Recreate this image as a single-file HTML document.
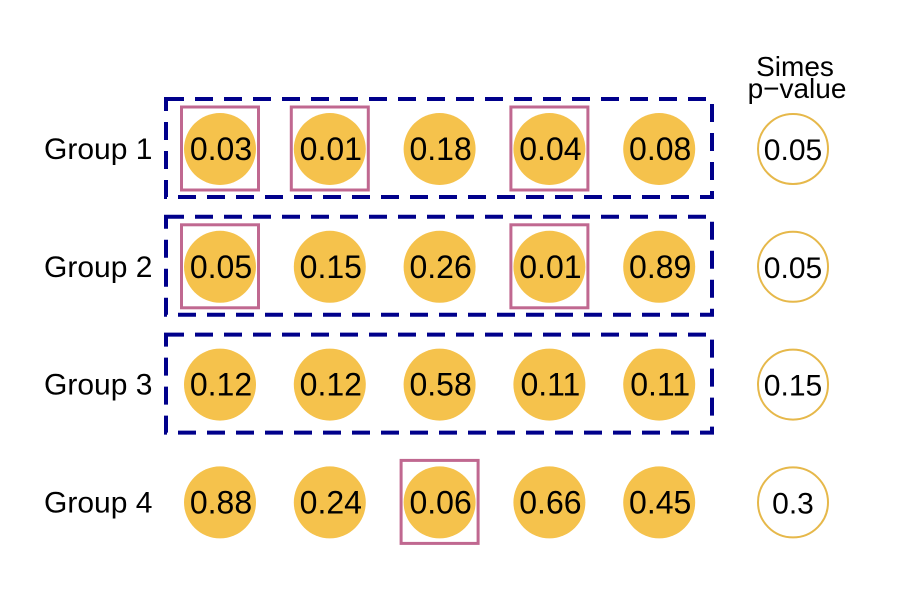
<!DOCTYPE html>
<html><head><meta charset="utf-8"><style>
html,body{margin:0;padding:0;background:#fff;}
svg{display:block;font-family:"Liberation Sans",Arial,sans-serif;}
</style></head><body>
<svg id="chart" width="908" height="600" viewBox="0 0 908 600">
<text x="795" y="76" font-size="28" text-anchor="middle">Simes</text>
<text x="797" y="98" font-size="28" text-anchor="middle">p−value</text>
<g id="marks"></g>
</svg>
<script>
const groups = ["Group 1","Group 2","Group 3","Group 4"];
const pvals = [
  [0.03,0.01,0.18,0.04,0.08],
  [0.05,0.15,0.26,0.01,0.89],
  [0.12,0.12,0.58,0.11,0.11],
  [0.88,0.24,0.06,0.66,0.45]
];
const pLabels = [
  ["0.03","0.01","0.18","0.04","0.08"],
  ["0.05","0.15","0.26","0.01","0.89"],
  ["0.12","0.12","0.58","0.11","0.11"],
  ["0.88","0.24","0.06","0.66","0.45"]
];
const simes = ["0.05","0.05","0.15","0.3"];
const highlighted = [[0,1,3],[0,3],[],[2]];
const rejectedGroups = [true,true,true,false];

const NS="http://www.w3.org/2000/svg";
const g=document.getElementById('marks');
function xPos(j){return 220+j*109.8;}
function yPos(i){return 149+i*117.8;}
function mk(tag,attrs){const e=document.createElementNS(NS,tag);for(const k in attrs)e.setAttribute(k,attrs[k]);g.appendChild(e);return e;}
groups.forEach((name,i)=>{
  const y=yPos(i);
  const lab=mk('text',{x:44,y:y+10,'font-size':30});
  lab.textContent=name;
  
  
  if(rejectedGroups[i]){
    const r=mk('rect',{x:166,y:y-50,width:546,height:98,fill:'none',stroke:'#00008b','stroke-width':4,'stroke-dasharray':'18 11'});
    
    
  }
  pvals[i].forEach((v,j)=>{
    const x=xPos(j);
    const c=mk('circle',{cx:x,cy:y,r:36,fill:'#f5c24c'});
    
    
    if(highlighted[i].includes(j)){
      const s=mk('rect',{x:x-38.5,y:y-42,width:77,height:83,fill:'none',stroke:'#c06890','stroke-width':3});
      
      
    }
    const t=mk('text',{x:x+1,y:y+11,'font-size':32,'text-anchor':'middle'});
    t.textContent=pLabels[i][j];
    
    
  });
  const sc=mk('circle',{cx:793,cy:y,r:35,fill:'#fff',stroke:'#e6b84a','stroke-width':2});
  
  
  const st=mk('text',{x:793,y:y+11,'font-size':30,'text-anchor':'middle'});
  st.textContent=simes[i];
  
  
});
</script>
</body></html>
